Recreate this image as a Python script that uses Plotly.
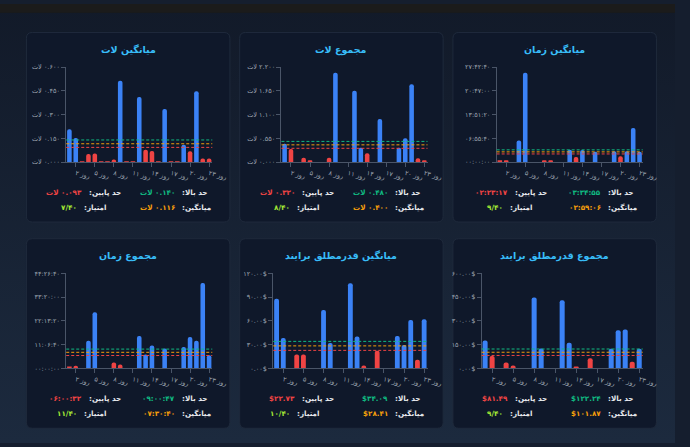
import base64
import plotly.graph_objects as go

W, H = 690, 447

FA = str.maketrans("0123456789", "۰۱۲۳۴۵۶۷۸۹")


def fa(s):
    return str(s).translate(FA)


# ---------------- data ----------------
days = ["روز ۱", "روز ۲", "روز ۳", "روز ۴", "روز ۵", "روز ۶", "روز ۷", "روز ۸",
        "روز ۹", "روز ۱۰", "روز ۱۱", "روز ۱۲", "روز ۱۳", "روز ۱۴", "روز ۱۵",
        "روز ۱۶", "روز ۱۷", "روز ۱۸", "روز ۱۹", "روز ۲۰", "روز ۲۱", "روز ۲۲", "روز ۲۳"]
tick_days = ["روز ۲", "روز ۵", "روز ۸", "روز ۱۱", "روز ۱۴", "روز ۱۷", "روز ۲۰", "روز ۲۳"]

titles = ["میانگین لات", "مجموع لات", "میانگین زمان",
          "مجموع زمان", "میانگین قدرمطلق برایند", "مجموع قدرمطلق برایند"]

avg_lot = [0.207, 0.152, 0.005, 0.051, 0.055, 0.005, 0.005, 0.016, 0.514, 0.005, 0.005, 0.411,
           0.078, 0.070, 0.005, 0.335, 0.005, 0.005, 0.109, 0.068, 0.448, 0.023, 0.023]
sum_lot = [0.425, 0.303, 0, 0.099, 0.046, 0, 0, 0.099, 2.07, 0, 0, 1.654,
           0.33, 0.205, 0, 1.001, 0, 0, 0.33, 0.554, 1.806, 0.091, 0.046]
avg_time = [1032, 2064, 0, 22704, 93913, 0, 0, 1376, 1376, 0, 0, 13072,
            5504, 12728, 0, 11008, 0, 0, 11352, 6192, 11352, 35776, 11008]
sum_time = [1655, 4414, 0, 46345, 94345, 0, 0, 9931, 6621, 0, 0, 54621,
            23172, 38621, 0, 33655, 0, 0, 35862, 52966, 46345, 144000, 22069]
avg_abs = [88.1, 38.5, 0, 17.4, 17.4, 0, 0, 73.7, 31.9, 0, 0, 107.6,
           40.1, 3.7, 0, 22.3, 0, 0, 41.0, 29.4, 61.2, 10.8, 62.1]
sum_abs = [175.9, 78.6, 0, 37.2, 18.6, 0, 0, 446.9, 126.2, 0, 0, 430.3,
           161.4, 12.4, 0, 64.1, 0, 0, 124.1, 240.0, 246.2, 41.4, 124.1]

series = [avg_lot, sum_lot, avg_time, sum_time, avg_abs, sum_abs]
kinds = ["lot", "lot", "time", "time", "usd", "usd"]
upper = [0.140, 0.480, 12895, 32447, 34.09, 122.24]
mean = [0.116, 0.400, 10746, 27040, 28.41, 101.87]
lower = [0.093, 0.320, 8597, 21632, 22.73, 81.49]
scores = [7, 8, 9, 11, 10, 9]
score_total = 40
y_max = [0.6, 2.2, 99760, 160000, 120, 600]

stat_labels = ["حد بالا", "حد پایین", "میانگین", "امتیاز"]

# ---------------- style ----------------
BLUE = "#3b82f6"
RED = "#ef4444"
GREEN = "#10b981"
ORANGE = "#f59e0b"
LIME = "#a3e635"
TITLE = "#38bdf8"
LABEL = "#e5e7eb"
TICK = "#9ca3af"
AXIS = "#4a5568"
FONT = "DejaVu Sans"

panel_px = [(27, 29, 235, 222), (245, 29, 453, 222), (463, 29, 671, 222),
            (27, 239, 235, 432), (245, 239, 453, 432), (463, 239, 671, 432)]
plot_px = [(67.7, 64.3, 217, 161), (287.7, 64.3, 437, 161), (507.7, 64.3, 657, 161),
           (67.7, 274.3, 217, 371), (279.3, 274.3, 437, 371), (492.3, 274.3, 657, 371)]


def px(x):
    return x / W


def py(y):
    return 1 - y / H


def hms(v):
    s = int(round(v))
    return fa(f"{s // 3600:02d}:{(s % 3600) // 60:02d}:{s % 60:02d}")


def fmt_val(v, kind):
    if kind == "lot":
        return "لات\u200e " + fa(f"{v:.3f}")
    if kind == "time":
        return hms(v)
    return "$" + fa(f"{v:.2f}")


def fmt_tick(v, kind):
    if kind == "lot":
        return "لات\u200e " + fa(f"{v:.3f}")
    if kind == "time":
        return hms(v)
    return fa(f"{v:.2f}") + "$"


def rrect(x0, y0, x1, y1, r):
    rx, ry = r / W, r / H
    X0, X1, Y0, Y1 = px(x0), px(x1), py(y1), py(y0)
    return (f"M{X0+rx},{Y0} L{X1-rx},{Y0} Q{X1},{Y0} {X1},{Y0+ry} "
            f"L{X1},{Y1-ry} Q{X1},{Y1} {X1-rx},{Y1} L{X0+rx},{Y1} "
            f"Q{X0},{Y1} {X0},{Y1-ry} L{X0},{Y0+ry} Q{X0},{Y0} {X0+rx},{Y0} Z")


fig = go.Figure()
shapes = []
annotations = []
layout_axes = {}

bg_svg = ('<svg xmlns="http://www.w3.org/2000/svg" width="690" height="447" preserveAspectRatio="none">'
          '<defs><linearGradient id="g" x1="0" y1="0" x2="0" y2="1">'
          '<stop offset="0" stop-color="#121a29"/><stop offset="1" stop-color="#1c2a3e"/>'
          '</linearGradient></defs><rect width="690" height="447" fill="url(#g)"/>'
          '<rect width="690" height="9" fill="#1b1b1b"/></svg>')
bg_uri = "data:image/svg+xml;base64," + base64.b64encode(bg_svg.encode()).decode()

for i in range(6):
    sfx = "" if i == 0 else str(i + 1)
    vals = series[i]
    kind = kinds[i]
    colors = [BLUE if v >= lower[i] else RED for v in vals]
    fig.add_trace(go.Bar(x=days, y=vals, marker=dict(color=colors, cornerradius=2, line=dict(width=0)),
                         xaxis=f"x{sfx}", yaxis=f"y{sfx}", showlegend=False, hoverinfo="skip"))

    X0, Y0, X1, Y1 = panel_px[i]
    shapes.append(dict(type="path", path=rrect(X0, Y0, X1, Y1, 6), xref="paper", yref="paper",
                       fillcolor="#0f182a", line=dict(color="#1f2a3c", width=1), layer="below"))

    a0, b0, a1, b1 = plot_px[i]
    ticks_y = [y_max[i] * k / 4 for k in range(5)]
    layout_axes[f"xaxis{sfx}"] = dict(
        domain=[px(a0), px(a1)], anchor=f"y{sfx}", type="category",
        categoryorder="array", categoryarray=days,
        showline=True, linecolor=AXIS, linewidth=1, ticks="outside", ticklen=4,
        tickcolor=AXIS, tickvals=tick_days, ticktext=tick_days, tickangle=15,
        tickfont=dict(family=FONT, size=6.5, color=TICK), showgrid=False, zeroline=False,
        range=[-0.5, len(days) - 0.5], fixedrange=True)
    layout_axes[f"yaxis{sfx}"] = dict(
        domain=[py(b1), py(b0)], anchor=f"x{sfx}", range=[0, y_max[i]],
        tickvals=ticks_y, ticktext=[fmt_tick(v, kind) for v in ticks_y],
        showline=True, linecolor=AXIS, linewidth=1, ticks="outside", ticklen=4,
        tickcolor=AXIS, tickfont=dict(family=FONT, size=6.5, color=TICK),
        showgrid=False, zeroline=False, fixedrange=True)

    for val, col in ((upper[i], GREEN), (mean[i], ORANGE), (lower[i], RED)):
        shapes.append(dict(type="line", xref=f"x{sfx} domain", yref=f"y{sfx}", x0=0, x1=1,
                           y0=val, y1=val, line=dict(color=col, width=1, dash="3px,2px")))

    cx = (X0 + X1) / 2
    annotations.append(dict(text=titles[i], x=px(cx), y=py(Y0 + 18), xref="paper", yref="paper",
                            showarrow=False, xanchor="center", yanchor="middle",
                            font=dict(family=FONT, size=9.5, color=TITLE, weight=700)))

    r1 = Y0 + 162.7
    r2 = Y0 + 177.7
    stats = [
        (stat_labels[0], fmt_val(upper[i], kind), GREEN, cx + 51, r1),
        (stat_labels[1], fmt_val(lower[i], kind), RED, cx - 44, r1),
        (stat_labels[2], fmt_val(mean[i], kind), ORANGE, cx + 51, r2),
        (stat_labels[3], fa(f"{scores[i]}/{score_total}"), LIME, cx - 49, r2),
    ]
    for lab, val, col, split, sy in stats:
        annotations.append(dict(text=":" + lab, x=px(split + 1.5), y=py(sy), xref="paper", yref="paper",
                                showarrow=False, xanchor="left", yanchor="middle",
                                font=dict(family=FONT, size=7.2, color=LABEL, weight=700)))
        annotations.append(dict(text=val, x=px(split - 1.5), y=py(sy), xref="paper", yref="paper",
                                showarrow=False, xanchor="right", yanchor="middle",
                                font=dict(family=FONT, size=7.2, color=col, weight=700)))

fig.update_layout(
    width=W, height=H, margin=dict(l=0, r=0, t=0, b=0),
    paper_bgcolor="#151e2e", plot_bgcolor="rgba(0,0,0,0)",
    bargap=0.28, shapes=shapes, annotations=annotations,
    images=[dict(source=bg_uri, xref="paper", yref="paper", x=0, y=1, sizex=1, sizey=1,
                 sizing="stretch", xanchor="left", yanchor="top", layer="below")],
    **layout_axes)

fig.write_html("out.html", config={"displayModeBar": False},
               post_script="document.body.style.margin='0';document.body.style.overflow='hidden';")
